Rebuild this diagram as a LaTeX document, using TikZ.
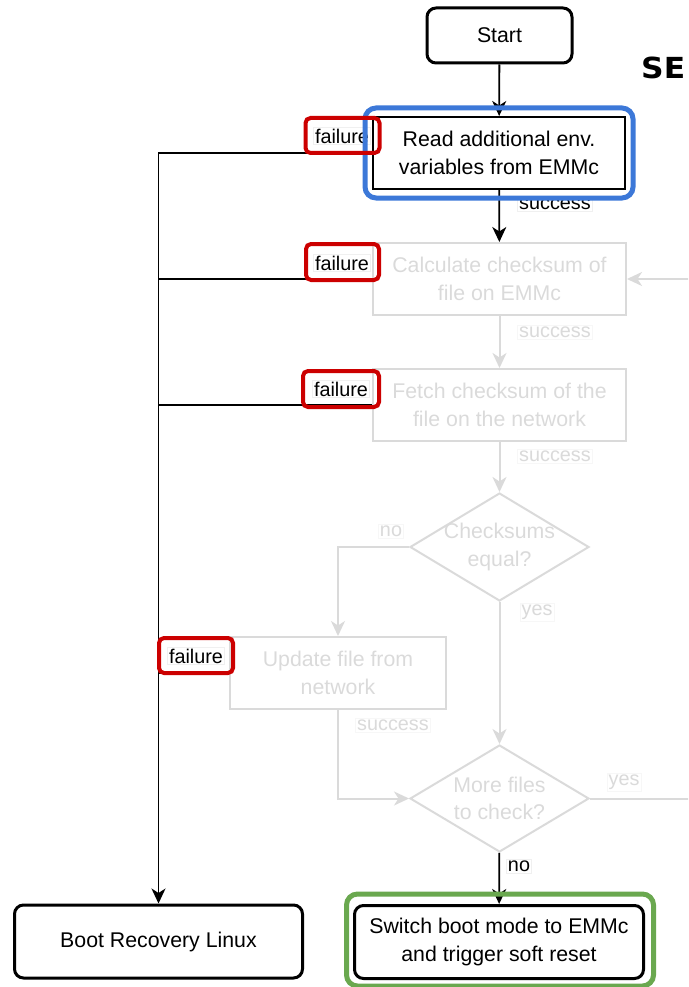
\documentclass[tikz,border=0pt]{standalone}
\usepackage{fontspec}
\setmainfont{Liberation Sans}
\newfontfamily\headfont{DejaVu Sans}
\usetikzlibrary{arrows.meta,shapes.geometric,calc}
\definecolor{hlblue}{RGB}{60,120,216}
\definecolor{hlred}{RGB}{204,0,0}
\definecolor{hlgreen}{RGB}{106,168,79}
\definecolor{lgray}{RGB}{218,218,218}
\begin{document}
\begin{tikzpicture}[x=1pt,y=-1pt,
  bigfont/.style={font=\fontsize{21.3}{27.5}\selectfont},
  box/.style={draw=black, line width=2pt, minimum width=252pt, minimum height=72pt, align=center, inner sep=0pt, bigfont},
  gbox/.style={draw=lgray, text=lgray, line width=2pt, minimum width=253pt, minimum height=72pt, align=center, inner sep=0pt, bigfont},
  termbox/.style={draw=black, line width=3pt, rounded corners=9pt, align=center, inner sep=0pt, bigfont},
  gdia/.style={draw=lgray, line width=2pt, diamond, inner sep=0pt, minimum width=179pt, minimum height=108pt},
  gtext/.style={text=lgray, align=center, bigfont},
  lbl/.style={fill=white, draw=black!6, line width=0.6pt, inner sep=1.5pt, font=\fontsize{19.8}{23}\selectfont},
  glbl/.style={lbl, draw=black!3, text=lgray},
  blkline/.style={draw=black, line width=1.8pt},
  blkarrow/.style={blkline, -{Stealth[length=15pt,width=14pt,inset=4.5pt]}},
  garrow/.style={draw=lgray, line width=2pt, -{Stealth[length=15pt,width=14pt,inset=4.5pt]}},
  redhl/.style={draw=hlred, line width=4pt, rounded corners=5pt, minimum width=74pt, minimum height=35pt, inner sep=0pt},
  bluehl/.style={draw=hlblue, line width=5pt, rounded corners=11pt, minimum width=268pt, minimum height=90pt, inner sep=0pt},
  greenhl/.style={draw=hlgreen, line width=5pt, rounded corners=11pt, minimum width=307pt, minimum height=92pt, inner sep=0pt}
]
\useasboundingbox (0,0) rectangle (688,987);
\clip (0,0) rectangle (688,987);

% nodes
\node[termbox, minimum width=145pt, minimum height=55pt] (start) at (499.5,35.5) {Start};
\node[box] (read) at (499,153) {Read additional env.\\variables from EMMc};
\node[gbox] (calc) at (499.5,279) {Calculate checksum of\\file on EMMc};
\node[gbox] (fetch) at (499.5,405) {Fetch checksum of the\\file on the network};
\node[gdia] (eq) at (499.5,547) {};
\node[gtext] (eqt) at (eq.center) {Checksums\\equal?};
\node[gbox, minimum width=216pt] (upd) at (338,673) {Update file from\\network};
\node[gdia, minimum height=107pt] (more) at (499.5,798.5) {};
\node[gtext] (moret) at (more.center) {More files\\to check?};
\node[termbox, minimum width=289pt, minimum height=73pt] (sw) at (499,942) {Switch boot mode to EMMc\\and trigger soft reset};
\node[termbox, minimum width=288pt, minimum height=73pt] (boot) at (158.5,941.5) {Boot Recovery Linux};
\node[anchor=base west, inner sep=0pt, font=\headfont\bfseries\fontsize{29}{29}\selectfont] (se) at (641,79) {\scalebox{1.08}[1]{SE}};
\coordinate (loopR) at (720,798.5);

% connectors
\draw[blkarrow] (start) -- (read);
\draw[blkarrow] (read) -- (calc);
\draw[garrow] (calc) -- (fetch);
\draw[garrow] (fetch) -- (eq);
\draw[garrow] (eq.west) -| (upd.north);
\draw[garrow] (eq) -- (more);
\draw[garrow] (upd.south) |- (more.west);
\draw[garrow] (more.east) -- (loopR) |- (calc.east);
\draw[blkarrow] (more) -- (sw);
\draw[blkarrow] (read.west) -| (boot.north);
\draw[blkline] (calc.west) -- (calc.west -| boot.north);
\draw[blkline] (fetch.west) -- (fetch.west -| boot.north);
\draw[blkline] (upd.west) -- (upd.west -| boot.north);

% labels
\node[lbl] (f1) at (342,136) {failure};
\node[lbl] (f2) at (342,263) {failure};
\node[lbl] (f3) at (341,389) {failure};
\node[lbl] (f4) at (196,656) {failure};
\node[lbl] (s1) at (555,204) {success};
\node[glbl] (s2) at (555,332) {success};
\node[glbl] (s3) at (555,456) {success};
\node[glbl] (s4) at (393,725) {success};
\node[glbl] (n1) at (391,531) {no};
\node[glbl] (y1) at (537,612) {yes};
\node[glbl] (y2) at (624,782) {yes};
\node[lbl] (n2) at (519,866) {no};

% highlights
\node[bluehl] (hb) at (499,153) {};
\node[greenhl] (hg) at (500,940) {};
\node[redhl] (h1) at (342.5,135.5) {};
\node[redhl, minimum width=73pt, minimum height=36pt] (h2) at (342.5,262) {};
\node[redhl, minimum width=76pt, minimum height=36pt] (h3) at (341,389) {};
\node[redhl] (h4) at (196,655.5) {};
\end{tikzpicture}
\end{document}
